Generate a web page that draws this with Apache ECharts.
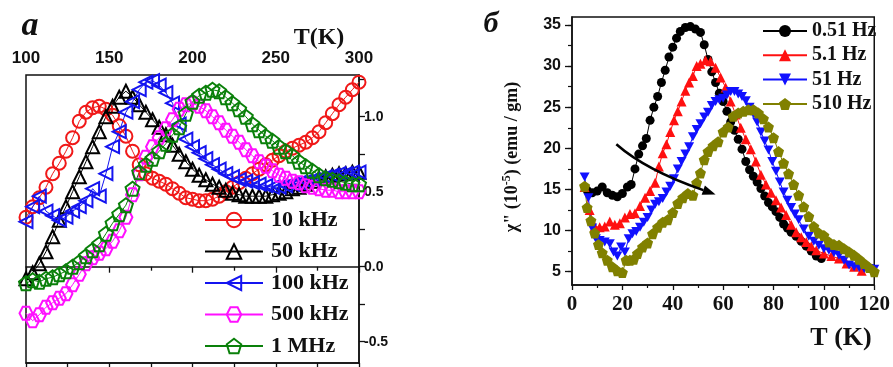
<!DOCTYPE html>
<html><head><meta charset="utf-8">
<script src="https://cdn.jsdelivr.net/npm/echarts@6/dist/echarts.min.js"></script>
<style>html,body{margin:0;padding:0;background:#fff}#c{width:893px;height:367px}</style>
</head><body><div id="c"></div>
<script>
// ---------- Panel a (left) ----------
const tempA = [100,104,108,112,116,120,124,128,132,136,140,144,148,152,156,160,164,168,172,176,180,184,188,192,196,200,204,208,212,216,220,224,228,232,236,240,244,248,252,256,260,264,268,272,276,280,284,288,292,296,300];
const a10k  = [0.33,0.40,0.46,0.53,0.62,0.69,0.77,0.86,0.97,1.03,1.06,1.07,1.05,1.01,0.94,0.87,0.77,0.68,0.62,0.59,0.57,0.55,0.52,0.49,0.46,0.45,0.44,0.44,0.45,0.47,0.50,0.53,0.56,0.59,0.62,0.65,0.68,0.71,0.74,0.77,0.79,0.81,0.83,0.86,0.90,0.96,1.02,1.08,1.13,1.18,1.23];
const a50k  = [-0.08,-0.04,0.02,0.10,0.20,0.31,0.40,0.50,0.60,0.70,0.80,0.90,1.00,1.07,1.13,1.17,1.13,1.08,1.03,0.98,0.93,0.88,0.81,0.75,0.70,0.65,0.61,0.58,0.55,0.53,0.51,0.49,0.48,0.47,0.47,0.47,0.47,0.48,0.49,0.50,0.52,0.53,0.55,0.57,0.59,0.60,0.61,0.62,0.62,0.63,0.63];
const a100k = [0.30,0.40,0.47,0.37,0.34,0.31,0.33,0.37,0.40,0.44,0.52,0.47,0.62,0.80,0.90,1.03,1.10,1.18,1.23,1.24,1.21,1.16,1.09,0.95,0.85,0.80,0.76,0.72,0.68,0.65,0.62,0.60,0.58,0.57,0.56,0.55,0.54,0.53,0.53,0.54,0.55,0.56,0.57,0.58,0.59,0.60,0.61,0.62,0.62,0.63,0.63];
const a500k = [-0.31,-0.36,-0.32,-0.27,-0.24,-0.21,-0.18,-0.12,-0.05,0.02,0.06,0.09,0.12,0.17,0.24,0.33,0.48,0.62,0.73,0.80,0.86,0.92,0.98,1.05,1.08,1.09,1.07,1.04,1.00,0.96,0.91,0.87,0.83,0.78,0.74,0.70,0.67,0.64,0.61,0.59,0.57,0.56,0.54,0.53,0.52,0.51,0.51,0.50,0.50,0.50,0.50];
const a1M   = [-0.11,-0.09,-0.10,-0.08,-0.07,-0.05,-0.03,0.00,0.03,0.07,0.11,0.15,0.22,0.29,0.35,0.41,0.52,0.63,0.68,0.72,0.77,0.82,0.88,0.93,1.02,1.10,1.14,1.16,1.18,1.17,1.13,1.09,1.05,1.00,0.95,0.91,0.87,0.84,0.80,0.77,0.74,0.70,0.67,0.64,0.61,0.59,0.58,0.57,0.56,0.55,0.55];
const namesA = ['10 kHz','50 kHz','100 kHz','500 kHz','1 MHz'];
const ticksA_y = [-0.5,0,0.5,1.0];
const minorA_y = [-0.5,-0.25,0,0.25,0.5,0.75,1.0,1.25];

// ---------- Panel б (right) ----------
const t051 = [6,8,10,12,14,16,18,20,22,23.5,25,26.5,28,29.5,31,32.5,34,35.5,37,38.5,40,41.5,43,45,47,49,51,52.5,54,55.5,57,58.5,60,61.5,63,64.5,66,67.5,69,70.5,72,73.5,75,76.5,78,79.5,81,82.5,84,85.5,87,89,91,93,95,97,99];
const v051 = [14.9,14.6,14.8,15.3,14.6,14.3,14.1,14.5,15.3,15.6,17.5,19.3,20.3,21.2,23.4,25.0,26.3,28.0,29.5,31.1,32.3,33.4,34.2,34.7,34.8,34.5,34.1,32.6,30.8,29.3,28.0,26.7,25.7,24.5,23.2,22.2,21.1,19.9,18.4,17.4,16.6,15.9,15.1,14.2,13.4,12.9,12.3,11.6,10.8,10.3,9.8,9.3,8.7,8.1,7.5,6.9,6.6];
const t5_1 = [5,7,9,11,13,15,17,19,21,23,25,27,29,31,33,34.5,36,37.5,39,40.5,42,43.5,45,46.5,48,49.5,51,53,55,57,59,61,63,65,67,69,71,73,75,77,79,81,83,85,87,89,91,93,95,97,100,103,106,109,112,115];
const v5_1 = [15.3,12.5,10.5,10.4,10.5,11.1,10.7,10.9,11.6,12.0,12.1,13.0,14.0,14.8,15.8,17.8,19.4,20.5,22.0,23.4,24.5,25.7,27.0,28.0,28.8,30.0,30.3,30.7,30.6,29.8,28.6,27.4,25.7,24.1,22.5,21.1,19.9,18.4,16.8,15.6,14.6,13.7,12.8,11.9,10.7,9.8,9.2,8.6,8.1,7.6,7.2,6.9,6.6,6.0,5.6,5.1];
const t51 = [5,6.5,8,9.5,11,13,15,16.5,18,19.5,21,22.5,24,25.5,27,28.5,30,31.5,33,34.5,36,37.5,39,40.5,42,43.5,45,46.5,48,49.5,51,52.5,54,55.5,57,58.5,60,61.5,63,64.5,66,67.5,69,70.5,72,73.5,75,76.5,78,79.5,81,82.5,84,85.5,87,88.5,90,92,94,96,98,100,102,104,106,108,110,112,114,116,118,120];
const v51 = [16.5,14.0,10.3,9.0,8.8,8.6,8.4,7.4,6.9,8.0,7.4,9.0,9.6,9.9,10.4,11.0,11.6,12.5,13.2,13.5,13.9,14.7,15.4,16.3,17.5,18.4,19.3,20.2,21.4,22.3,23.0,23.8,24.4,25.2,25.7,25.9,26.1,26.5,26.9,26.9,26.6,26.3,25.8,25.0,24.2,23.2,22.0,20.9,19.8,18.4,17.2,15.9,14.7,13.7,12.8,12.0,11.3,10.2,9.3,8.7,8.2,7.8,7.6,7.3,7.0,6.4,5.8,5.6,5.5,5.4,5.4,5.3];
const t510 = [5,6,7.5,9,10.5,12,14,16,18,20,21.5,23,24.5,26,28,30,32,34,36,38,40,42,44,46,48,49.5,51,52.5,54,56,58,60,62,64,66,68,70,72,74,76,78,80,82,84,86,88,90,92,94,96,98,100,102,104,106,108,110,112,114,116,118,120];
const v510 = [15.4,12.8,11.2,9.7,8.3,7.3,6.4,5.6,5.1,4.9,6.4,6.4,6.5,7.2,8.0,8.5,9.6,10.4,11.0,11.3,12.2,13.3,14.0,14.5,14.3,15.8,17.0,18.6,19.6,20.3,20.8,22.0,22.6,23.9,24.3,24.5,24.7,24.7,24.3,23.6,22.6,21.3,19.6,18.2,16.9,15.6,14.3,12.9,11.7,10.5,9.7,9.4,8.6,8.3,8.2,7.8,7.4,7.0,6.5,6.0,5.5,5.0];
const namesB = ['0.51 Hz','5.1 Hz','51 Hz','510 Hz'];
const ticksB_y = [5,10,15,20,25,30,35];
const minorB_y = [5,7.5,10,12.5,15,17.5,20,22.5,25,27.5,30,32.5,35];
// arrow annotation (data coordinates of panel б): start, mid, end
const arrowPts = [[17.6,20.5],[33.3,17.4],[57,14.4]];

const SERIF = '"Liberation Serif","Times New Roman",serif';
const SANS = '"Liberation Sans",Arial,sans-serif';
const INK = '#111';

const SYM = {
  left: 'path://M0,5L10,0L10,10Z',
  hex: 'path://M2.5,0L7.5,0L10,5L7.5,10L2.5,10L0,5Z',
  pent: 'path://M5,0L10,3.8L8.1,10L1.9,10L0,3.8Z',
  down: 'path://M0,0L10,0L5,9Z'
};

function pairs(xs, ys){ return xs.map((t,i)=>[t, ys[i]]); }

function hollow(name, xs, ys, color, symbol, size){
  return {
    type:'line', name, data: pairs(xs, ys), xAxisIndex:0, yAxisIndex:0,
    symbol, symbolSize:size, symbolKeepAspect:true, showAllSymbol:true,
    color, lineStyle:{color, width:1},
    itemStyle:{color:'rgba(255,255,255,0)', borderColor:color, borderWidth:2},
    emphasis:{disabled:true}, clip:true, z:2
  };
}
function filled(name, xs, ys, color, symbol, size){
  return {
    type:'line', name, data: pairs(xs, ys), xAxisIndex:2, yAxisIndex:1,
    symbol, symbolSize:size, symbolKeepAspect:true, showAllSymbol:true,
    color, lineStyle:{color, width:1},
    itemStyle:{color, borderWidth:0},
    emphasis:{disabled:true}, clip:true, z:2
  };
}

const chart = echarts.init(document.getElementById('c'), null, {renderer:'canvas'});
const axisLineStyle = {color:INK, width:1.5};

chart.setOption({
  animation:false,
  backgroundColor:'#fff',
  grid:[
    {left:26, top:75, width:333, height:288, show:true, borderColor:INK, borderWidth:1.5, backgroundColor:'transparent'},
    {left:572, top:17, width:306, height:268, show:true, borderColor:INK, borderWidth:1.5, backgroundColor:'transparent'}
  ],
  xAxis:[
    {gridIndex:0, type:'value', position:'top', min:100, max:300, interval:50,
     axisLine:{show:true, lineStyle:axisLineStyle},
     axisTick:{show:true, inside:true, length:6, lineStyle:{color:INK, width:1.3}},
     minorTick:{show:true, splitNumber:2, length:4, lineStyle:{color:INK, width:1.3}},
     splitLine:{show:false},
     axisLabel:{show:true, margin:8, color:INK, fontFamily:SANS, fontWeight:'bold', fontSize:17}},
    {gridIndex:0, type:'value', position:'bottom', min:100, max:300, interval:25,
     axisLine:{show:true, lineStyle:axisLineStyle},
     axisTick:{show:true, inside:false, length:4, lineStyle:{color:INK, width:1.3}},
     splitLine:{show:false}, axisLabel:{show:false}},
    {gridIndex:1, type:'value', position:'bottom', min:0, max:120, interval:20,
     axisLine:{show:true, lineStyle:axisLineStyle},
     axisTick:{show:true, inside:false, length:5, lineStyle:{color:INK, width:1.3}},
     minorTick:{show:true, splitNumber:2, length:3, lineStyle:{color:INK, width:1.2}},
     splitLine:{show:false},
     axisLabel:{show:true, margin:9, color:INK, fontFamily:SERIF, fontWeight:'bold', fontSize:21}}
  ],
  yAxis:[
    {gridIndex:0, type:'value', position:'right', min:-0.642, max:1.278,
     axisLine:{show:true, lineStyle:axisLineStyle},
     axisTick:{show:true, inside:false, length:6, customValues:minorA_y, lineStyle:{color:INK, width:1.3}},
     splitLine:{show:false},
     axisLabel:{show:true, customValues:ticksA_y, margin:5, color:INK, fontFamily:SANS, fontWeight:'bold', fontSize:14,
       formatter:v=>Number(v).toFixed(1)}},
    {gridIndex:1, type:'value', position:'left', min:3.38, max:35.97,
     axisLine:{show:true, lineStyle:axisLineStyle},
     axisTick:{show:true, inside:false, length:7, customValues:ticksB_y, lineStyle:{color:INK, width:1.3}},
     splitLine:{show:false},
     axisLabel:{show:true, customValues:ticksB_y, margin:11, color:INK, fontFamily:SANS, fontWeight:'bold', fontSize:16}},
    {gridIndex:1, type:'value', position:'left', min:3.38, max:35.97,
     axisLine:{show:false},
     axisTick:{show:true, inside:false, length:4, customValues:minorB_y, lineStyle:{color:INK, width:1.2}},
     splitLine:{show:false}, axisLabel:{show:false}}
  ],
  legend:[
    {data:namesA, orient:'vertical', left:204, top:209, itemWidth:58, itemHeight:18, itemGap:9.5, padding:0,
     selectedMode:false,
     textStyle:{color:INK, fontFamily:SERIF, fontWeight:'bold', fontSize:22, padding:[0,0,0,3]}},
    {data:namesB, orient:'vertical', left:762, top:21, itemWidth:44, itemHeight:15, itemGap:4.3, padding:0,
     selectedMode:false,
     textStyle:{color:INK, fontFamily:SERIF, fontWeight:'bold', fontSize:20}}
  ],
  series:[
    hollow(namesA[0], tempA, a10k,  '#f01818', 'circle', 13),
    hollow(namesA[1], tempA, a50k,  '#000000', 'triangle', 13),
    hollow(namesA[2], tempA, a100k, '#1414f0', SYM.left, 13),
    hollow(namesA[3], tempA, a500k, '#ff10ff', SYM.hex, 13),
    hollow(namesA[4], tempA, a1M,   '#0a800a', SYM.pent, 14),
    filled(namesB[0], t051, v051, '#000000', 'circle', 9),
    filled(namesB[1], t5_1, v5_1, '#ff1010', 'triangle', 10),
    filled(namesB[2], t51,  v51,  '#1010ff', SYM.down, 10),
    filled(namesB[3], t510, v510, '#808000', SYM.pent, 11)
  ]
});

// annotations
const P = arrowPts.map(p => chart.convertToPixel({gridIndex:1}, p));
const P0 = P[0], M = P[1], tip = P[2];
const C = [2*M[0] - 0.5*(P0[0]+tip[0]), 2*M[1] - 0.5*(P0[1]+tip[1])];
let dx = tip[0]-C[0], dy = tip[1]-C[1];
const L = Math.hypot(dx, dy); dx/=L; dy/=L;
const headLen = 13, headW = 5;
const base = [tip[0]-dx*headLen, tip[1]-dy*headLen];
const nx = -dy, ny = dx;

chart.setOption({
  graphic:[
    {type:'text', x:30, y:26, style:{text:'а', font:'italic bold 34px '+SERIF, fill:INK, align:'center', verticalAlign:'middle'}},
    {type:'text', x:319, y:38, style:{text:'T(K)', font:'bold 24px '+SERIF, fill:INK, align:'center', verticalAlign:'middle'}},
    {type:'text', x:491, y:24, style:{text:'б', font:'italic bold 30px '+SERIF, fill:INK, align:'center', verticalAlign:'middle'}},
    {type:'text', x:841, y:338, style:{text:'T (K)', font:'bold 26px '+SERIF, fill:INK, align:'center', verticalAlign:'middle'}},
    {type:'text', x:512, y:157, rotation:Math.PI/2,
     style:{text:'χ" (10{s|-5}) (emu / gm)', font:'bold 18px '+SERIF, fill:INK, align:'center', verticalAlign:'middle',
       rich:{s:{fontSize:12, fontWeight:'bold', fontFamily:SERIF, fill:INK, padding:[0,0,10,0]}}}},
    {type:'bezierCurve', shape:{x1:P0[0], y1:P0[1], x2:base[0], y2:base[1], cpx1:C[0], cpy1:C[1]},
     style:{stroke:'#000', lineWidth:2.5, fill:null}, z:10},
    {type:'polygon', shape:{points:[[tip[0],tip[1]],[base[0]+nx*headW, base[1]+ny*headW],[base[0]-nx*headW, base[1]-ny*headW]]},
     style:{fill:'#000'}, z:10}
  ]
});
</script></body></html>
